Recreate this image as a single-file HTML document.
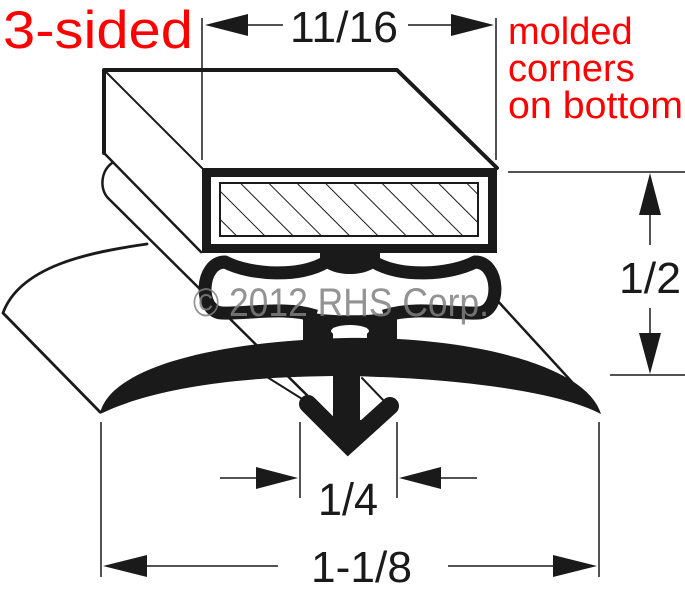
<!DOCTYPE html>
<html><head><meta charset="utf-8"><style>
html,body{margin:0;padding:0;background:#fff;}
svg{display:block;}
text{font-family:"Liberation Sans",Arial,sans-serif;}
</style></head><body>
<svg width="685" height="600" viewBox="0 0 685 600" xmlns="http://www.w3.org/2000/svg">
<defs>
<pattern id="h" patternUnits="userSpaceOnUse" width="20" height="20" patternTransform="rotate(-45)">
<line x1="0" y1="0" x2="0" y2="20" stroke="#1a1a1a" stroke-width="2"/>
</pattern>
</defs>
<g stroke="#1a1a1a" fill="none" stroke-linecap="round" stroke-linejoin="round">
<path d="M147,244 C90,252 20,266 3,313 L100,412" stroke-width="2.8"/>
<line x1="108" y1="198" x2="330" y2="418" stroke-width="2.5"/>
<line x1="267" y1="377" x2="323" y2="412" stroke-width="2"/>
<line x1="362" y1="378" x2="385" y2="402" stroke-width="2"/>
<line x1="495" y1="298" x2="572" y2="382" stroke-width="2.5"/>
<path d="M112,163 C100,172 100,190 108,198" stroke-width="2.5"/>
<path d="M104,153 L104,70 L397,70 L497,168" stroke-width="4"/>
<line x1="104" y1="70" x2="202" y2="168" stroke-width="2"/>
<line x1="104" y1="153" x2="201" y2="252" stroke-width="2.5"/>
</g>
<rect x="206.5" y="172.5" width="286" height="76" fill="#fff" stroke="#1a1a1a" stroke-width="9"/>
<rect x="220" y="183" width="258" height="53" fill="url(#h)" stroke="#1a1a1a" stroke-width="2"/>
<g stroke="#1a1a1a" stroke-width="13" fill="none" stroke-linejoin="round">
<path d="M326,262 C300,278 250,275 225,262 C200,262 198,312 222,313 C250,314 285,306 316,316"/>
<path d="M374,262 C400,278 450,275 475,262 C500,262 502,312 478,313 C450,314 415,306 384,316"/>
<path d="M305,318 C325,323 375,323 395,318"/>
</g>
<path d="M320,252 L380,252 L380,262 C370,278 330,278 320,262 Z" fill="#1a1a1a"/>
<rect x="303" y="315" width="30" height="30" fill="#1a1a1a"/>
<rect x="367" y="315" width="30" height="30" fill="#1a1a1a"/>
<path d="M100,414 C108,372 200,342 345,338 C460,336 585,362 601,414 C560,392 460,378 345,376 C230,376 150,390 100,414 Z" fill="#1a1a1a"/>
<ellipse cx="350" cy="331" rx="19" ry="6" fill="#fff"/>
<rect x="333" y="370" width="27" height="50" fill="#1a1a1a"/>
<polyline points="308,404 348,444 390,406" fill="none" stroke="#1a1a1a" stroke-width="18" stroke-linecap="round" stroke-linejoin="miter"/>
<polygon points="320,420 348,456 376,420" fill="#1a1a1a"/>
<text x="193" y="316" font-size="40" fill="#808080" fill-opacity="0.85" textLength="296" lengthAdjust="spacingAndGlyphs">© 2012 RHS Corp.</text>
<g stroke="#1a1a1a" stroke-width="1.5" fill="none">
<line x1="202" y1="18" x2="202" y2="160"/>
<line x1="496" y1="18" x2="496" y2="160"/>
<line x1="243" y1="25" x2="283" y2="25"/>
<line x1="408" y1="25" x2="456" y2="25"/>
<line x1="508" y1="172" x2="685" y2="172"/>
<line x1="610" y1="375" x2="685" y2="375"/>
<line x1="650" y1="212" x2="650" y2="245"/>
<line x1="650" y1="308" x2="650" y2="336"/>
<line x1="101" y1="422" x2="101" y2="577"/>
<line x1="599" y1="422" x2="599" y2="577"/>
<line x1="300" y1="422" x2="300" y2="498"/>
<line x1="397" y1="422" x2="397" y2="498"/>
<line x1="220" y1="478" x2="260" y2="478"/>
<line x1="437" y1="478" x2="477" y2="478"/>
<line x1="145" y1="566" x2="278" y2="566"/>
<line x1="448" y1="566" x2="556" y2="566"/>
</g>
<g fill="#1a1a1a">
<polygon points="205,25 248,14 248,36"/>
<polygon points="494,25 451,14 451,36"/>
<polygon points="650,173 639,215 661,215"/>
<polygon points="650,374 639,333 661,333"/>
<polygon points="298,478 256,467 256,489"/>
<polygon points="399,478 441,467 441,489"/>
<polygon points="103,566 147,555 147,577"/>
<polygon points="597,566 553,555 553,577"/>
</g>
<text x="3" y="48" font-size="53" fill="#ff0000" textLength="190" lengthAdjust="spacingAndGlyphs">3-sided</text>
<text x="290" y="42" font-size="44" fill="#1a1a1a" textLength="108" lengthAdjust="spacingAndGlyphs">11/16</text>
<text x="508" y="44" font-size="38" fill="#ff0000">molded</text>
<text x="508" y="81" font-size="38" fill="#ff0000">corners</text>
<text x="508" y="118" font-size="38" fill="#ff0000" textLength="175" lengthAdjust="spacingAndGlyphs">on bottom</text>
<text x="619" y="293" font-size="44" fill="#1a1a1a" textLength="62" lengthAdjust="spacingAndGlyphs">1/2</text>
<text x="318" y="515" font-size="45" fill="#1a1a1a" textLength="60" lengthAdjust="spacingAndGlyphs">1/4</text>
<text x="311" y="582" font-size="44" fill="#1a1a1a" textLength="101" lengthAdjust="spacingAndGlyphs">1-1/8</text>
</svg>
</body></html>
